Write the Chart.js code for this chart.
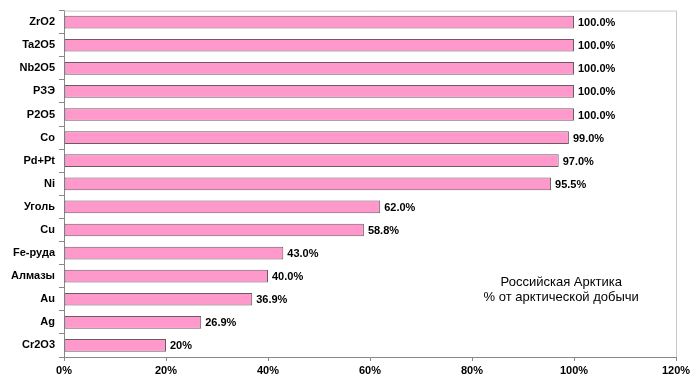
<!DOCTYPE html>
<html><head><meta charset="utf-8">
<script src="https://cdn.jsdelivr.net/npm/chart.js@4"></script>
<style>html,body{margin:0;padding:0;background:#fff}#wrap{width:695px;height:379px}</style>
</head><body><div id="wrap"><canvas id="c" width="695" height="379"></canvas></div>
<script>
const categories = ["ZrO2","Ta2O5","Nb2O5","РЗЭ","P2O5","Co","Pd+Pt","Ni","Уголь","Cu","Fe-руда","Алмазы","Au","Ag","Cr2O3"];
const values = [100,100,100,100,100,99,97,95.5,62,58.8,43,40,36.9,26.9,20];
const valueLabels = ["100.0%","100.0%","100.0%","100.0%","100.0%","99.0%","97.0%","95.5%","62.0%","58.8%","43.0%","40.0%","36.9%","26.9%","20%"];
const xTicks = [0,20,40,60,80,100,120];
const noteLines = ["Российская Арктика","% от арктической добычи"];

const FONT = "'Liberation Sans', Arial, sans-serif";

const extras = {
  id: 'extras',
  afterDatasetsDraw(chart) {
    const ctx = chart.ctx, a = chart.chartArea;
    ctx.save();
    ctx.strokeStyle = '#c8c8c8'; ctx.lineWidth = 1;
    ctx.beginPath();
    ctx.moveTo(a.left, a.top + 0.5); ctx.lineTo(a.right + 0.5, a.top + 0.5);
    ctx.lineTo(a.right + 0.5, a.bottom);
    ctx.stroke();
    const meta = chart.getDatasetMeta(0);
    ctx.fillStyle = '#000';
    ctx.font = 'bold 11px ' + FONT;
    ctx.textBaseline = 'middle'; ctx.textAlign = 'left';
    meta.data.forEach((bar, i) => {
      ctx.fillText(valueLabels[i], bar.x + 4, bar.y + 1);
    });
    ctx.font = '13px ' + FONT;
    ctx.textAlign = 'center';
    const xs = chart.scales.x;
    const cx = xs.getPixelForValue(97.5);
    ctx.fillText(noteLines[0], cx, 282);
    ctx.fillText(noteLines[1], cx, 297);
    ctx.restore();
  }
};

new Chart(document.getElementById('c'), {
  type: 'bar',
  data: {
    labels: categories,
    datasets: [{
      data: values,
      backgroundColor: '#ff99cc',
      borderColor: '#6e5a64',
      borderWidth: 1,
      borderSkipped: false,
      barPercentage: 0.55,
      categoryPercentage: 1
    }]
  },
  options: {
    indexAxis: 'y',
    responsive: false,
    animation: false,
    devicePixelRatio: 1,
    layout: { padding: { top: 9, right: 19, left: 0, bottom: 0 } },
    plugins: { legend: { display: false }, tooltip: { enabled: false } },
    scales: {
      x: {
        min: 0, max: 120,
        afterBuildTicks(s) { s.ticks = xTicks.map(v => ({ value: v })); },
        afterFit(s) { s.height = 22; },
        ticks: { callback: v => v + '%', color: '#000', font: { family: FONT, size: 11, weight: 'bold' }, padding: 3, maxRotation: 0 },
        grid: { drawOnChartArea: false, drawTicks: true, tickLength: 4, color: '#888' },
        border: { color: '#888' }
      },
      y: {
        afterFit(s) { s.width = 64; },
        ticks: { color: '#000', font: { family: FONT, size: 11, weight: 'bold' }, padding: 4 },
        grid: { drawOnChartArea: false, drawTicks: true, tickLength: 5, offset: true, color: '#888' },
        border: { color: '#888' }
      }
    }
  },
  plugins: [extras]
});
</script></body></html>
